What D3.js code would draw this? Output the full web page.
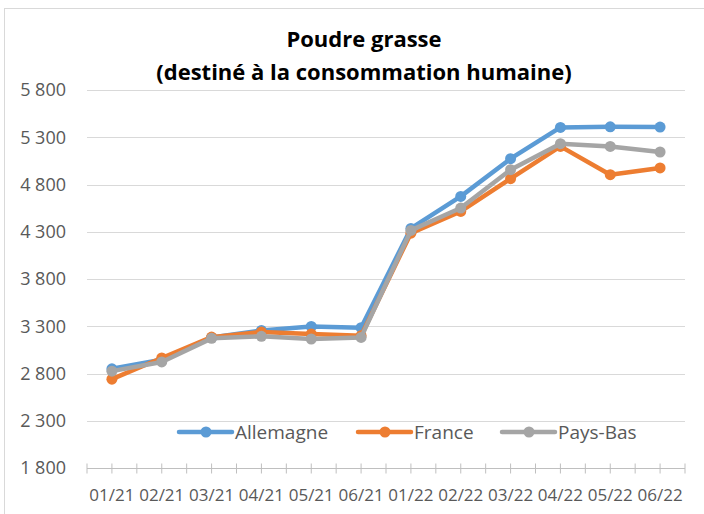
<!DOCTYPE html>
<html>
<head>
<meta charset="utf-8">
<script src="https://cdn.jsdelivr.net/npm/d3@7"></script>
<style>
  body { margin: 0; background: #fff; }
  svg { display: block; }
</style>
</head>
<body>
<svg></svg>
<script>
// data
var months = ["01/21", "02/21", "03/21", "04/21", "05/21", "06/21",
              "01/22", "02/22", "03/22", "04/22", "05/22", "06/22"];
var allemagne = [2850, 2946, 3180, 3256, 3298, 3285, 4335, 4674, 5073, 5404, 5410, 5408];
var france    = [2740, 2964, 3185, 3239, 3218, 3200, 4285, 4515, 4861, 5203, 4904, 4975];
var paysBas   = [2825, 2922, 3172, 3193, 3165, 3182, 4314, 4551, 4957, 5232, 5203, 5144];
var yTicks = [1800, 2300, 2800, 3300, 3800, 4300, 4800, 5300, 5800];

var seriesList = [
  { name: "Allemagne", values: allemagne, color: "#5B9BD5" },
  { name: "France", values: france, color: "#ED7D31" },
  { name: "Pays-Bas", values: paysBas, color: "#A5A5A5" }
];

const W = 704, H = 514;
const plotL = 87, plotR = 685, plotT = 90, plotB = 468;
const font = "'Open Sans', sans-serif";

var svg = d3.select("svg").attr("width", W).attr("height", H);

// chart frame
svg.append("rect")
  .attr("x", 4.5).attr("y", 8.5)
  .attr("width", W - 4).attr("height", H)
  .attr("fill", "none").attr("stroke", "#d9d9d9");

// scales
var x = d3.scaleBand().domain(months).range([plotL, plotR]);
var y = d3.scaleLinear().domain([1800, 5800]).range([plotB, plotT]);
var fmt = v => d3.format(",")(v).replace(",", "\u00a0");

// gridlines
svg.append("g").selectAll("line")
  .data(yTicks.filter(t => t > 1800))
  .enter().append("line")
  .attr("x1", plotL).attr("x2", plotR)
  .attr("y1", d => Math.round(y(d)) + 0.5).attr("y2", d => Math.round(y(d)) + 0.5)
  .attr("stroke", "#d9d9d9").attr("stroke-width", 1);

// y labels
svg.append("g").selectAll("text")
  .data(yTicks)
  .enter().append("text")
  .attr("x", 66).attr("y", d => y(d))
  .attr("dy", "0.36em")
  .attr("text-anchor", "end")
  .attr("font-family", font).attr("font-size", 18)
  .attr("fill", "#595959")
  .text(fmt);

// x axis with major (boundary) and minor (center) ticks
var xAxis = svg.append("g").attr("transform", `translate(0,${Math.round(plotB) + 0.5})`);
xAxis.append("line").attr("x1", plotL).attr("x2", plotR).attr("stroke", "#bfbfbf");
var tickPos = [];
months.forEach(m => {
  tickPos.push(x(m));
  tickPos.push(x(m) + x.bandwidth() / 2);
});
tickPos.push(plotR);
xAxis.selectAll("line.tk").data(tickPos).enter().append("line")
  .attr("class", "tk")
  .attr("x1", d => d).attr("x2", d => d)
  .attr("y1", -5).attr("y2", 5)
  .attr("stroke", "#bfbfbf");
xAxis.selectAll("text").data(months).enter().append("text")
  .attr("x", d => x(d) + x.bandwidth() / 2)
  .attr("y", 32)
  .attr("text-anchor", "middle")
  .attr("font-family", font).attr("font-size", 17)
  .attr("fill", "#595959")
  .text(d => d);

// lines
var line = d3.line()
  .x((d, i) => x(months[i]) + x.bandwidth() / 2)
  .y(d => y(d));

seriesList.forEach(s => {
  var g = svg.append("g");
  g.append("path")
    .attr("d", line(s.values))
    .attr("fill", "none")
    .attr("stroke", s.color)
    .attr("stroke-width", 4.5)
    .attr("stroke-linejoin", "round");
  g.selectAll("circle").data(s.values).enter().append("circle")
    .attr("cx", (d, i) => x(months[i]) + x.bandwidth() / 2)
    .attr("cy", d => y(d))
    .attr("r", 5.5)
    .attr("fill", s.color);
});

// legend
var legendX = [179, 358, 502];
var legend = svg.append("g");
seriesList.forEach((s, i) => {
  var lg = legend.append("g").attr("transform", `translate(${legendX[i]},432)`);
  lg.append("line").attr("x1", 0).attr("x2", 53)
    .attr("stroke", s.color).attr("stroke-width", 4.5).attr("stroke-linecap", "round");
  lg.append("circle").attr("cx", 27).attr("r", 5.5).attr("fill", s.color);
  lg.append("text").attr("x", 56).attr("dy", "0.36em")
    .attr("font-family", font).attr("font-size", 19)
    .attr("fill", "#595959")
    .text(s.name);
});

// title
var title = svg.append("text")
  .attr("text-anchor", "middle")
  .attr("font-family", font).attr("font-weight", "bold")
  .attr("font-size", 22).attr("fill", "#000");
title.append("tspan").attr("x", 364).attr("y", 47).text("Poudre grasse");
title.append("tspan").attr("x", 364).attr("y", 80).text("(destiné à la consommation humaine)");
</script>
</body>
</html>
